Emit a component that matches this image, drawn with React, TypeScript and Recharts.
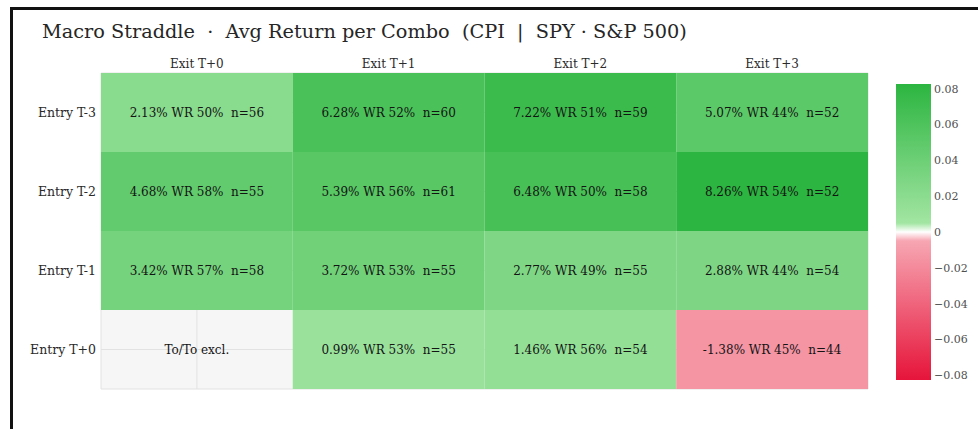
import { BarChart, Bar, XAxis, YAxis, CartesianGrid } from "recharts"

const entries = ["Entry T-3", "Entry T-2", "Entry T-1", "Entry T+0"]
const exits = ["Exit T+0", "Exit T+1", "Exit T+2", "Exit T+3"]

// avg return per combo, rows = entries, cols = exits (null = excluded)
const avgReturn: (number | null)[][] = [
  [0.0213, 0.0628, 0.0722, 0.0507],
  [0.0468, 0.0539, 0.0648, 0.0826],
  [0.0342, 0.0372, 0.0277, 0.0288],
  [null, 0.0099, 0.0146, -0.0138],
]
const winRate: (number | null)[][] = [
  [50, 52, 51, 44],
  [58, 56, 50, 54],
  [57, 53, 49, 44],
  [null, 53, 56, 45],
]
const counts: (number | null)[][] = [
  [56, 60, 59, 52],
  [55, 61, 58, 52],
  [58, 55, 55, 54],
  [null, 55, 54, 44],
]
const excludedText = "To/To excl."
const colorTicks = [0.08, 0.06, 0.04, 0.02, 0, -0.02, -0.04, -0.06, -0.08]

const FONT = "'DejaVu Serif', Georgia, serif"

// colour scale, t = 0 (min) .. 1 (max)
const stops: [number, number[]][] = [
  [0, [230, 20, 58]],
  [0.47, [247, 166, 178]],
  [0.5, [255, 255, 255]],
  [0.53, [162, 229, 162]],
  [1, [44, 181, 64]],
]

const zMax = Math.max(
  ...avgReturn.flat().filter((v): v is number => v !== null).map(Math.abs)
)

function colorAt(t: number) {
  for (let i = 1; i < stops.length; i++) {
    const [t1, c1] = stops[i]
    const [t0, c0] = stops[i - 1]
    if (t <= t1) {
      const f = (t - t0) / (t1 - t0)
      const c = c0.map((v, k) => Math.round(v + (c1[k] - v) * f))
      return `rgb(${c[0]},${c[1]},${c[2]})`
    }
  }
  const c = stops[stops.length - 1][1]
  return `rgb(${c[0]},${c[1]},${c[2]})`
}

const rows = entries.map((entry, r) => {
  const row: Record<string, any> = { entry, r }
  exits.forEach((_, c) => {
    row["c" + c] = 1
  })
  return row
})

const cbData = [{ name: "cb", range: [-zMax, zMax] }]

function cellText(r: number, c: number) {
  const v = avgReturn[r][c]
  if (v === null) return excludedText
  return `${(v * 100).toFixed(2)}% WR ${winRate[r][c]}%  n=${counts[r][c]}`
}

function makeShape(c: number) {
  return (p: any) => {
    const r = p.payload?.r ?? p.index
    const v = avgReturn[r][c]
    const fill = v === null ? "transparent" : colorAt((v + zMax) / (2 * zMax))
    return (
      <g>
        <rect x={p.x} y={p.y} width={p.width} height={p.height} fill={fill} />
        <text
          x={p.x + p.width / 2}
          y={p.y + p.height / 2}
          dy="0.35em"
          textAnchor="middle"
          fontSize={12}
          fill="#141414"
          style={{ whiteSpace: "pre" }}
        >
          {cellText(r, c)}
        </text>
      </g>
    )
  }
}

const fmtTick = (v: number) =>
  v === 0 ? "0" : v < 0 ? "\u2212" + Math.abs(v).toFixed(2) : v.toFixed(2)

export default function App() {
  return (
    <div
      style={{
        position: "fixed",
        left: 0,
        top: 0,
        width: 978,
        height: 429,
        overflow: "hidden",
        background: "#fff",
        fontFamily: FONT,
      }}
    >
      <div
        style={{
          position: "absolute",
          left: 10,
          top: 7,
          width: 1000,
          height: 500,
          borderTop: "3px solid #111",
          borderLeft: "3px solid #111",
        }}
      />
      <div
        style={{
          position: "absolute",
          left: 42,
          top: 20,
          fontSize: 19.3,
          color: "#262626",
          whiteSpace: "pre",
        }}
      >
        {"Macro Straddle  \u00b7  Avg Return per Combo  (CPI  |  SPY \u00b7 S&P 500)"}
      </div>

      <div style={{ position: "absolute", left: 0, top: 0 }}>
        <BarChart
          width={978}
          height={429}
          data={rows}
          layout="vertical"
          barCategoryGap={0}
          margin={{ top: 0, right: 110, bottom: 40, left: 0 }}
        >
          <CartesianGrid fill="#f6f6f6" fillOpacity={1} stroke="#e2e2e2" />
          <XAxis
            type="number"
            orientation="top"
            domain={[0, exits.length]}
            ticks={exits.map((_, i) => i + 0.5)}
            tickFormatter={(v: number) => exits[Math.floor(v)]}
            height={73}
            axisLine={false}
            tickLine={false}
            tickSize={0}
            tickMargin={5}
            tick={{ fontSize: 12, fill: "#2a2a2a" }}
          />
          <YAxis
            type="category"
            dataKey="entry"
            width={101}
            axisLine={false}
            tickLine={false}
            tickSize={0}
            tickMargin={5}
            tick={{ fontSize: 12.5, fill: "#2a2a2a" }}
          />
          {exits.map((_, c) => (
            <Bar
              key={c}
              dataKey={"c" + c}
              stackId="cells"
              isAnimationActive={false}
              shape={makeShape(c)}
            />
          ))}
        </BarChart>
      </div>

      <div style={{ position: "absolute", left: 889, top: 70 }}>
        <BarChart
          width={89}
          height={330}
          data={cbData}
          barCategoryGap={0}
          margin={{ top: 14, right: 0, bottom: 20, left: 7 }}
        >
          <defs>
            <linearGradient id="cbGrad" x1="0" y1="0" x2="0" y2="1">
              {[...stops].reverse().map(([t, c]) => (
                <stop
                  key={t}
                  offset={`${(1 - t) * 100}%`}
                  stopColor={`rgb(${c[0]},${c[1]},${c[2]})`}
                />
              ))}
            </linearGradient>
          </defs>
          <XAxis dataKey="name" hide />
          <YAxis
            type="number"
            orientation="right"
            domain={[-zMax, zMax]}
            ticks={colorTicks}
            tickFormatter={fmtTick}
            width={47}
            axisLine={false}
            tickLine={false}
            tickSize={0}
            tickMargin={3}
            tick={{ fontSize: 11, fill: "#505050" }}
          />
          <Bar dataKey="range" fill="url(#cbGrad)" isAnimationActive={false} />
        </BarChart>
      </div>
    </div>
  )
}
